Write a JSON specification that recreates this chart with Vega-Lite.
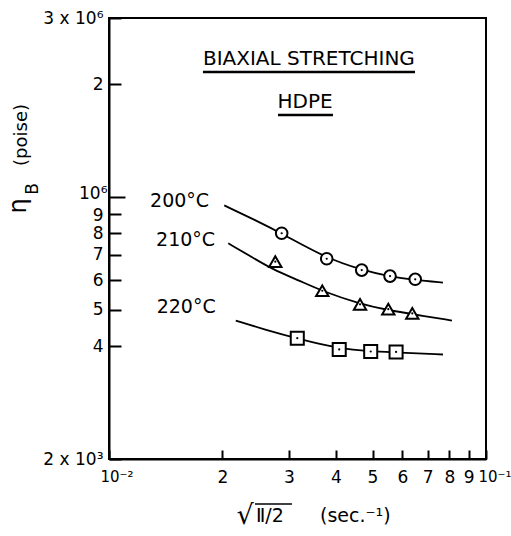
{
  "$schema": "https://vega.github.io/schema/vega-lite/v6.json",
  "width": 377,
  "height": 441,
  "autosize": {"type": "none"},
  "padding": {"left": 109, "top": 18, "right": 25, "bottom": 77},
  "background": "white",
  "config": {
    "view": {"stroke": "black", "strokeWidth": 2},
    "text": {"font": "DejaVu Sans", "color": "black"},
    "axis": {
      "grid": false,
      "domainColor": "black",
      "domainWidth": 2,
      "tickColor": "black",
      "tickWidth": 2,
      "labelColor": "black",
      "labelFont": "DejaVu Sans",
      "labelFontSize": 17,
      "labelOverlap": false,
      "labelFlush": false
    }
  },
  "datasets": {
    "curves": [
      {"series": "200°C", "x": 0.02022, "y": 949000},
      {"series": "200°C", "x": 0.02439, "y": 868000},
      {"series": "200°C", "x": 0.02894, "y": 796000},
      {"series": "200°C", "x": 0.03764, "y": 687000},
      {"series": "200°C", "x": 0.0469, "y": 638000},
      {"series": "200°C", "x": 0.05565, "y": 613000},
      {"series": "200°C", "x": 0.06481, "y": 600000},
      {"series": "200°C", "x": 0.07688, "y": 591000},
      {"series": "210°C", "x": 0.02072, "y": 752000},
      {"series": "210°C", "x": 0.02366, "y": 696000},
      {"series": "210°C", "x": 0.02706, "y": 642000},
      {"series": "210°C", "x": 0.0321, "y": 597000},
      {"series": "210°C", "x": 0.03673, "y": 561000},
      {"series": "210°C", "x": 0.04633, "y": 518000},
      {"series": "210°C", "x": 0.05495, "y": 499000},
      {"series": "210°C", "x": 0.06363, "y": 487000},
      {"series": "210°C", "x": 0.08123, "y": 468000},
      {"series": "220°C", "x": 0.02169, "y": 468000},
      {"series": "220°C", "x": 0.02609, "y": 442000},
      {"series": "220°C", "x": 0.03162, "y": 419000},
      {"series": "220°C", "x": 0.04073, "y": 394000},
      {"series": "220°C", "x": 0.04955, "y": 387000},
      {"series": "220°C", "x": 0.05774, "y": 385000},
      {"series": "220°C", "x": 0.07688, "y": 380000}
    ],
    "points": [
      {"series": "200°C", "x": 0.02871, "y": 800000},
      {"series": "200°C", "x": 0.0378, "y": 684000},
      {"series": "200°C", "x": 0.04681, "y": 638000},
      {"series": "200°C", "x": 0.05565, "y": 615000},
      {"series": "200°C", "x": 0.0649, "y": 603000},
      {"series": "210°C", "x": 0.02761, "y": 672000},
      {"series": "210°C", "x": 0.03679, "y": 562000},
      {"series": "210°C", "x": 0.04633, "y": 517000},
      {"series": "210°C", "x": 0.05506, "y": 502000},
      {"series": "210°C", "x": 0.06375, "y": 489000},
      {"series": "220°C", "x": 0.03158, "y": 420000},
      {"series": "220°C", "x": 0.0408, "y": 392000},
      {"series": "220°C", "x": 0.04945, "y": 387000},
      {"series": "220°C", "x": 0.05774, "y": 386000}
    ],
    "seriesLabels": [
      {"text": "200°C", "x": 0.01285, "y": 940000},
      {"text": "210°C", "x": 0.01333, "y": 741000},
      {"text": "220°C", "x": 0.01338, "y": 489000}
    ],
    "titles": [
      {"text": "BIAXIAL STRETCHING", "x": 0.0339, "y": 2247000},
      {"text": "HDPE", "x": 0.03311, "y": 1723000}
    ],
    "underlines": [
      {"x": 0.01775, "x2": 0.06481, "y": 2153000},
      {"x": 0.02807, "x2": 0.03927, "y": 1654000}
    ],
    "xTitle": [
      {"text": "Ⅱ/2", "x": 0.02454, "y": 135900},
      {"text": "(sec.⁻¹)", "x": 0.03628, "y": 135900}
    ],
    "radical": [
      {"text": "√", "x": 0.02178, "y": 134500}
    ],
    "overline": [
      {"x": 0.02439, "x2": 0.03057, "y": 151800}
    ],
    "yTitlePoise": [{"text": "(poise)", "x": 0.006061, "y": 1463000}],
    "yTitleEta": [{"text": "η", "x": 0.006024, "y": 946000}],
    "yTitleB": [{"text": "B", "x": 0.006481, "y": 1050000}]
  },
  "encoding": {
    "x": {
      "field": "x",
      "type": "quantitative",
      "scale": {"type": "log", "domain": [0.01, 0.1], "nice": false, "zero": false},
      "axis": {
        "title": null,
        "values": [0.01, 0.02, 0.03, 0.04, 0.05, 0.06, 0.07, 0.08, 0.09, 0.1],
        "labelExpr": "datum.value < 0.015 ? '10⁻²' : (datum.value > 0.095 ? '10⁻¹' : format(datum.value * 100, '.0f'))",
        "tickSize": -9,
        "labelPadding": 19,
        "labelAlign": {"condition": {"test": "datum.value < 0.015 || datum.value > 0.095", "value": "left"}, "value": "center"},
        "labelFontSize": {"condition": {"test": "datum.value < 0.015 || datum.value > 0.095", "value": 15}, "value": 17},
        "labelOffset": {"condition": [{"test": "datum.value < 0.015", "value": -9}, {"test": "datum.value > 0.095", "value": -8}], "value": 0}
      }
    },
    "y": {
      "field": "y",
      "type": "quantitative",
      "scale": {"type": "log", "domain": [200000, 3000000], "nice": false, "zero": false},
      "axis": {
        "title": null,
        "values": [200000, 400000, 500000, 600000, 700000, 800000, 900000, 1000000, 2000000, 3000000],
        "labelExpr": "datum.value < 250000 ? '2 x 10³' : (datum.value > 2500000 ? '3 x 10⁶' : (datum.value > 1500000 ? '2' : (datum.value > 950000 ? '10⁶' : format(datum.value / 100000, '.0f'))))",
        "tickSize": {"condition": {"test": "datum.value > 950000 && datum.value < 1050000", "value": -16}, "value": -12},
        "labelOffset": {"condition": [{"test": "datum.value > 950000 && datum.value < 1050000", "value": -3}, {"test": "datum.value > 850000 && datum.value < 950000", "value": 1}], "value": 0},
        "labelPadding": 18
      }
    }
  },
  "layer": [
    {
      "data": {"name": "curves"},
      "mark": {"type": "line", "interpolate": "basis", "color": "black", "strokeWidth": 1.8},
      "encoding": {"detail": {"field": "series", "type": "nominal"}}
    },
    {
      "data": {"name": "points"},
      "mark": {"type": "point", "filled": false, "fill": "white", "fillOpacity": 1, "stroke": "black", "strokeWidth": 2, "opacity": 1},
      "encoding": {
        "shape": {"field": "series", "type": "nominal", "scale": {"domain": ["200°C", "210°C", "220°C"], "range": ["circle", "triangle-up", "square"]}, "legend": null},
        "size": {"field": "series", "type": "ordinal", "scale": {"domain": ["200°C", "210°C", "220°C"], "range": [135, 170, 115]}, "legend": null}
      }
    },
    {
      "data": {"name": "points"},
      "mark": {"type": "point", "filled": true, "color": "black", "size": 5, "shape": "circle", "opacity": 1}
    },
    {
      "data": {"name": "underlines"},
      "mark": {"type": "rule", "color": "black", "strokeWidth": 2.5},
      "encoding": {"x2": {"field": "x2"}}
    },
    {
      "data": {"name": "overline"},
      "mark": {"type": "rule", "color": "black", "strokeWidth": 1.5},
      "encoding": {"x2": {"field": "x2"}}
    },
    {
      "data": {"name": "titles"},
      "mark": {"type": "text", "fontSize": 20, "align": "center", "baseline": "alphabetic"},
      "encoding": {"text": {"field": "text"}}
    },
    {
      "data": {"name": "seriesLabels"},
      "mark": {"type": "text", "fontSize": 19, "align": "left", "baseline": "alphabetic"},
      "encoding": {"text": {"field": "text"}}
    },
    {
      "data": {"name": "xTitle"},
      "mark": {"type": "text", "fontSize": 19, "align": "left", "baseline": "alphabetic"},
      "encoding": {"text": {"field": "text"}}
    },
    {
      "data": {"name": "radical"},
      "mark": {"type": "text", "fontSize": 27, "align": "left", "baseline": "alphabetic"},
      "encoding": {"text": {"field": "text"}}
    },
    {
      "data": {"name": "yTitlePoise"},
      "mark": {"type": "text", "fontSize": 18, "align": "center", "baseline": "alphabetic", "angle": 270},
      "encoding": {"text": {"field": "text"}}
    },
    {
      "data": {"name": "yTitleEta"},
      "mark": {"type": "text", "fontSize": 24, "align": "center", "baseline": "alphabetic", "angle": 270},
      "encoding": {"text": {"field": "text"}}
    },
    {
      "data": {"name": "yTitleB"},
      "mark": {"type": "text", "fontSize": 17, "align": "center", "baseline": "alphabetic", "angle": 270},
      "encoding": {"text": {"field": "text"}}
    }
  ]
}
